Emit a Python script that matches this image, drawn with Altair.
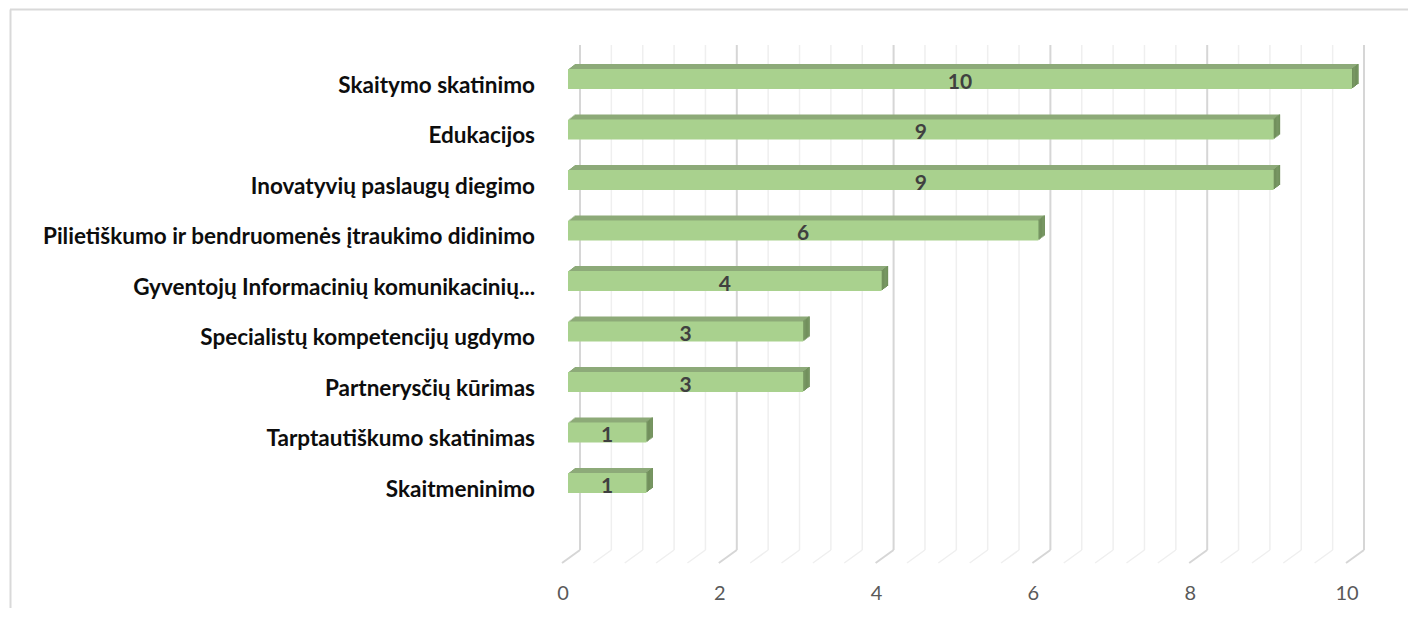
import altair as alt
import pandas as pd

categories = [
    "Skaitymo skatinimo",
    "Edukacijos",
    "Inovatyvių paslaugų diegimo",
    "Pilietiškumo ir bendruomenės įtraukimo didinimo",
    "Gyventojų Informacinių komunikacinių...",
    "Specialistų kompetencijų ugdymo",
    "Partnerysčių kūrimas",
    "Tarptautiškumo skatinimas",
    "Skaitmeninimo",
]
values = [10, 9, 9, 6, 4, 3, 3, 1, 1]
major_ticks = [0, 2, 4, 6, 8, 10]
minor_ticks = [0.4, 0.8, 1.2, 1.6, 2.4, 2.8, 3.2, 3.6, 4.4, 4.8, 5.2, 5.6,
               6.4, 6.8, 7.2, 7.6, 8.4, 8.8, 9.2, 9.6]

FRONT = "#A9D18E"
TOP = "#8DAA79"
SIDE = "#71905C"
FONT = "Lato"

df = pd.DataFrame({"category": categories, "value": values})
major_df = pd.DataFrame({"v": major_ticks, "label": [str(t) for t in major_ticks]})
minor_df = pd.DataFrame({"v": minor_ticks})

xs = alt.Scale(domain=[0, 10], nice=False, zero=True)
ys = alt.Scale(domain=categories, paddingInner=0.604, paddingOuter=0.9307, align=0.2553)

X = alt.X("value:Q", scale=xs, axis=None)
Y = alt.Y("category:N", scale=ys, sort=categories, axis=None)

layers = []

# back wall gridlines + floor diagonals
for data, color, sw in [(minor_df, "#EFEFEF", 1.5), (major_df, "#D6D6D6", 2)]:
    base = alt.Chart(data)
    layers.append(
        base.mark_rule(color=color, strokeWidth=sw, xOffset=12).encode(
            x=alt.X("v:Q", scale=xs, axis=None), y=alt.value(0), y2=alt.value(505)
        )
    )
    layers.append(
        base.mark_rule(color=color, strokeWidth=sw, xOffset=12, x2Offset=-6).encode(
            x=alt.X("v:Q", scale=xs, axis=None), x2=alt.X2("v:Q"),
            y=alt.value(505), y2=alt.value(518)
        )
    )

bars = alt.Chart(df)
K = 5
A = 1.3
# top face (stacked shifted copies)
for k in range(K, 0, -1):
    layers.append(
        bars.mark_bar(color=TOP, xOffset=A * k, x2Offset=A * k, yOffset=-k, y2Offset=-k).encode(x=X, y=Y)
    )
# side face
for k in range(1, K + 1):
    layers.append(
        bars.mark_rect(color=SIDE, xOffset=A * (k - 1), x2Offset=A * k, yOffset=-k, y2Offset=-k).encode(
            x=X, x2=alt.X2("value:Q"), y=Y
        )
    )
# front face
layers.append(bars.mark_bar(color=FRONT).encode(x=X, y=Y))

# data labels
layers.append(
    bars.transform_calculate(mid="datum.value / 2")
    .mark_text(font=FONT, fontSize=21, fontWeight="bold", color="#404040", baseline="alphabetic", dy=10)
    .encode(x=alt.X("mid:Q", scale=xs, axis=None), y=Y, text="value:Q")
)

# category labels
layers.append(
    bars.mark_text(font=FONT, fontSize=22.5, fontWeight="bold", color="#0D0D0D", align="right",
                   baseline="alphabetic", dy=14)
    .encode(x=alt.value(-33), y=Y, text="category:N")
)

# tick labels
layers.append(
    alt.Chart(major_df)
    .mark_text(font=FONT, fontSize=20, color="#595959", baseline="alphabetic", xOffset=-5)
    .encode(x=alt.X("v:Q", scale=xs, axis=None), y=alt.value(555), text="label:N")
)

# outer frame
layers.append(
    alt.Chart(major_df.head(1)).mark_rule(color="#D9D9D9", strokeWidth=2).encode(
        x=alt.value(-558), x2=alt.value(900), y=alt.value(-35.5)
    )
)
layers.append(
    alt.Chart(major_df.head(1)).mark_rule(color="#D9D9D9", strokeWidth=2).encode(
        x=alt.value(-557.5), y=alt.value(-35.5), y2=alt.value(600)
    )
)

chart = (
    alt.layer(*layers)
    .properties(
        width=784,
        height=518,
        padding={"left": 560, "top": 37, "right": 56, "bottom": 45},
        autosize=alt.AutoSizeParams(type="none"),
        background="white",
    )
    .configure_view(stroke=None)
)

chart.save("out.html", embed_options={"renderer": "svg", "actions": False})
